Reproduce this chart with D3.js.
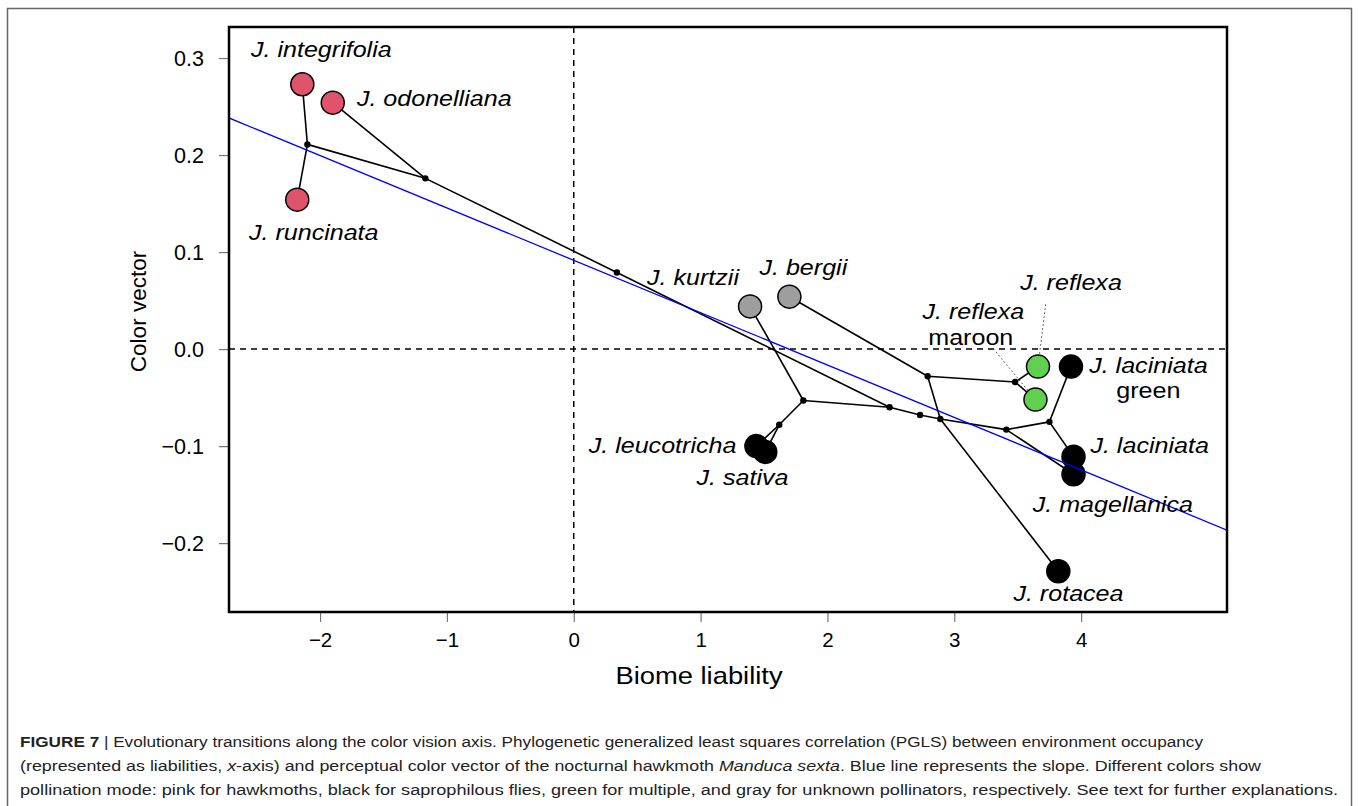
<!DOCTYPE html>
<html>
<head>
<meta charset="utf-8">
<script src="https://cdn.jsdelivr.net/npm/d3@7"></script>
<style>
  body { margin: 0; background: #fff; }
  svg text { font-family: "Liberation Sans", Arial, sans-serif; }
</style>
</head>
<body>
<svg id="chart" width="1358" height="806"></svg>
<script>
// tips: species, x = biome liability, y = color vector
const tipNames = ["integrifolia", "odonelliana", "runcinata", "kurtzii", "bergii",
  "leucotricha", "sativa", "reflexa", "reflexaMaroon", "laciniataGreen",
  "laciniata", "magellanica", "rotacea"];
const tipX = [-2.14, -1.90, -2.18, 1.39, 1.70, 1.44, 1.51, 3.66, 3.64, 3.92, 3.94, 3.94, 3.82];
const tipY = [0.273, 0.254, 0.154, 0.044, 0.054, -0.100, -0.106, -0.018, -0.052, -0.018, -0.111, -0.129, -0.229];
const tipGroup = ["pink", "pink", "pink", "gray", "gray", "black", "black",
  "green", "green", "black", "black", "black", "black"];

// internal nodes of the tree
const nodeNames = ["A", "B", "C", "D", "E", "F", "G", "H", "I", "J", "L", "M"];
const nodeX = [-2.10, -1.17, 0.34, 1.81, 1.62, 2.49, 2.73, 2.89, 2.79, 3.48, 3.41, 3.75];
const nodeY = [0.211, 0.176, 0.079, -0.053, -0.078, -0.060, -0.068, -0.072, -0.028, -0.034, -0.083, -0.075];

const edges = [
  ["A", "integrifolia"], ["A", "runcinata"], ["A", "B"], ["B", "odonelliana"],
  ["B", "C"], ["C", "F"], ["F", "D"], ["D", "kurtzii"], ["D", "E"],
  ["E", "leucotricha"], ["E", "sativa"], ["F", "G"], ["G", "H"],
  ["H", "I"], ["I", "bergii"], ["I", "J"], ["J", "reflexa"], ["J", "reflexaMaroon"],
  ["H", "rotacea"], ["H", "L"], ["L", "M"], ["L", "magellanica"],
  ["M", "laciniata"], ["M", "laciniataGreen"]
];

// PGLS slope line
const slopeIntercept = 0.0915;
const slopeValue = -0.054;

// labels (data units, centred)
const labelText = ["J. integrifolia", "J. odonelliana", "J. runcinata", "J. kurtzii", "J. bergii",
  "J. reflexa", "J. reflexa", "maroon", "J. laciniata", "green", "J. laciniata",
  "J. magellanica", "J. rotacea", "J. leucotricha", "J. sativa"];
const labelX = [-1.99, -1.10, -2.05, 0.94, 1.81, 3.92, 3.15, 3.13, 4.53, 4.53, 4.54, 4.25, 3.90, 0.70, 1.33];
const labelY = [0.309, 0.259, 0.121, 0.074, 0.085, 0.069, 0.0392, 0.0129, -0.0160, -0.0420, -0.099, -0.160, -0.252, -0.099, -0.132];
const labelItalic = [1, 1, 1, 1, 1, 1, 1, 0, 1, 0, 1, 1, 1, 1, 1];

// dotted leaders: [label x, label y, tip]
const leaders = [[3.72, 0.046, "reflexa"], [3.31, 0.000, "reflexaMaroon"]];

const xTicks = [-2, -1, 0, 1, 2, 3, 4];
const yTicks = [0.3, 0.2, 0.1, 0.0, -0.1, -0.2];

const colors = { pink: "#DF536B", gray: "#9E9E9E", black: "#000000", green: "#61D04F" };
const stretch = 1.14;   // the figure is a little wider than tall

const svg = d3.select("#chart");

// outer figure frame
svg.append("rect")
  .attr("x", 7.5).attr("y", 8.5).attr("width", 1344).attr("height", 800)
  .attr("fill", "none").attr("stroke", "#666").attr("stroke-width", 1.5);

const pL = 229, pR = 1227, pT = 27, pB = 612;
const x = d3.scaleLinear().domain([-2.718, 5.15]).range([pL, pR]);
const y = d3.scaleLinear().domain([-0.271, 0.332]).range([pB, pT]);

const pos = {};
tipNames.forEach((n, i) => pos[n] = [tipX[i], tipY[i]]);
nodeNames.forEach((n, i) => pos[n] = [nodeX[i], nodeY[i]]);

const plot = svg.append("g");
plot.append("clipPath").attr("id", "clip")
  .append("rect").attr("x", pL).attr("y", pT).attr("width", pR - pL).attr("height", pB - pT);

// axes
const xAxis = svg.append("g")
  .attr("transform", `translate(0,${pB})`)
  .call(d3.axisBottom(x).tickValues(xTicks).tickSize(10).tickPadding(10)
    .tickFormat(d => d < 0 ? "\u2212" + Math.abs(d) : d));
const yAxis = svg.append("g")
  .attr("transform", `translate(${pL},0)`)
  .call(d3.axisLeft(y).tickValues(yTicks).tickSize(10).tickPadding(15)
    .tickFormat(d => d < 0 ? "\u2212" + d3.format(".1f")(Math.abs(d)) : d3.format(".1f")(d)));
[xAxis, yAxis].forEach(a => {
  a.select(".domain").remove();
  a.selectAll(".tick line").attr("stroke", "#777").attr("stroke-width", 1.2);
  a.selectAll(".tick text").attr("fill", "#000")
    .style("font-family", "'Liberation Sans', Arial, sans-serif");
});
xAxis.selectAll(".tick text").style("font-size", "20.5px");
yAxis.selectAll(".tick text").style("font-size", "21.5px").attr("dy", "0.36em");

svg.append("text")
  .attr("transform", `translate(699,684) scale(${stretch},1)`)
  .attr("text-anchor", "middle").style("font-size", "24px")
  .text("Biome liability");
svg.append("text")
  .attr("transform", `translate(146,${(pT + pB) / 2 - 8}) rotate(-90)`)
  .attr("text-anchor", "middle").style("font-size", "22.5px")
  .text("Color vector");

const g = plot.append("g").attr("clip-path", "url(#clip)");

// zero reference lines
g.append("line")
  .attr("x1", x(0)).attr("x2", x(0)).attr("y1", pT).attr("y2", pB)
  .attr("stroke", "#000").attr("stroke-width", 1.5).attr("stroke-dasharray", "6,5");
g.append("line")
  .attr("x1", pL).attr("x2", pR).attr("y1", y(0)).attr("y2", y(0))
  .attr("stroke", "#000").attr("stroke-width", 1.5).attr("stroke-dasharray", "6,5");

// dotted leaders
g.selectAll("line.leader")
  .data(leaders)
  .enter().append("line")
    .attr("class", "leader")
    .attr("x1", d => x(d[0])).attr("y1", d => y(d[1]))
    .attr("x2", d => x(pos[d[2]][0])).attr("y2", d => y(pos[d[2]][1]))
    .attr("stroke", "#444").attr("stroke-width", 1).attr("stroke-dasharray", "1.5,2.5");

// tree branches
g.selectAll("line.edge")
  .data(edges)
  .enter().append("line")
    .attr("class", "edge")
    .attr("x1", d => x(pos[d[0]][0])).attr("y1", d => y(pos[d[0]][1]))
    .attr("x2", d => x(pos[d[1]][0])).attr("y2", d => y(pos[d[1]][1]))
    .attr("stroke", "#000").attr("stroke-width", 1.6);

// internal node dots
g.selectAll("circle.node")
  .data(nodeNames)
  .enter().append("circle")
    .attr("class", "node")
    .attr("cx", d => x(pos[d][0])).attr("cy", d => y(pos[d][1]))
    .attr("r", 3.2).attr("fill", "#000");

// tips
g.selectAll("circle.tip")
  .data(tipNames)
  .enter().append("circle")
    .attr("class", "tip")
    .attr("cx", (d, i) => x(tipX[i])).attr("cy", (d, i) => y(tipY[i]))
    .attr("r", 11.5)
    .attr("fill", (d, i) => colors[tipGroup[i]])
    .attr("stroke", "#000").attr("stroke-width", 1.5);

// slope line
const xd = x.domain();
g.append("line")
  .attr("x1", x(xd[0])).attr("y1", y(slopeIntercept + slopeValue * xd[0]))
  .attr("x2", x(xd[1])).attr("y2", y(slopeIntercept + slopeValue * xd[1]))
  .attr("stroke", "#0000ff").attr("stroke-width", 1.3);

// labels
g.selectAll("text.lab")
  .data(labelText)
  .enter().append("text")
    .attr("class", "lab")
    .attr("transform", (d, i) => `translate(${x(labelX[i])},${y(labelY[i])}) scale(${stretch},1)`)
    .attr("dy", "0.36em")
    .attr("text-anchor", "middle")
    .style("font-size", "22px")
    .style("font-style", (d, i) => labelItalic[i] ? "italic" : "normal")
    .text(d => d);

// plot frame
svg.append("rect")
  .attr("x", pL).attr("y", pT).attr("width", pR - pL).attr("height", pB - pT)
  .attr("fill", "none").attr("stroke", "#000").attr("stroke-width", 2.5);

// caption
const cap = svg.append("g").style("font-size", "15.5px").attr("fill", "#222");
const l1 = cap.append("text").attr("x", 20).attr("y", 747)
  .attr("textLength", 1183).attr("lengthAdjust", "spacingAndGlyphs");
l1.append("tspan").style("font-weight", "bold").text("FIGURE 7");
l1.append("tspan").text(" | Evolutionary transitions along the color vision axis. Phylogenetic generalized least squares correlation (PGLS) between environment occupancy");
const l2 = cap.append("text").attr("x", 20).attr("y", 771)
  .attr("textLength", 1241).attr("lengthAdjust", "spacingAndGlyphs");
l2.append("tspan").text("(represented as liabilities, ");
l2.append("tspan").style("font-style", "italic").text("x");
l2.append("tspan").text("-axis) and perceptual color vector of the nocturnal hawkmoth ");
l2.append("tspan").style("font-style", "italic").text("Manduca sexta");
l2.append("tspan").text(". Blue line represents the slope. Different colors show");
cap.append("text").attr("x", 20).attr("y", 795)
  .attr("textLength", 1318).attr("lengthAdjust", "spacingAndGlyphs")
  .text("pollination mode: pink for hawkmoths, black for saprophilous flies, green for multiple, and gray for unknown pollinators, respectively. See text for further explanations.");
</script>
</body>
</html>
